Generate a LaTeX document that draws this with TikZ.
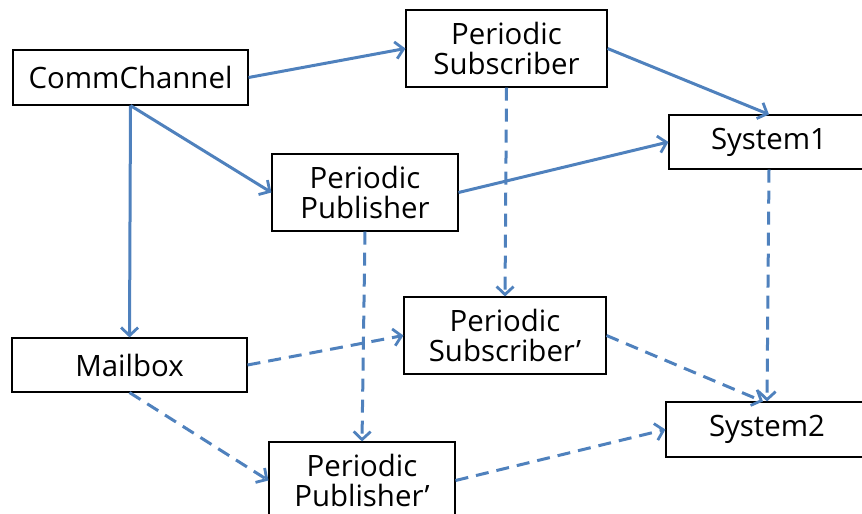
\documentclass[tikz,border=0pt]{standalone}
\usepackage{fontspec}
\setmainfont{Open Sans}
\usetikzlibrary{arrows.meta}
\definecolor{lineblue}{RGB}{79,129,189}
\tikzset{
  box/.style={draw=black, line width=1.1bp, fill=white, inner sep=0pt, align=center,
    font=\fontsize{29.5}{31}\selectfont},
  conn/.style={draw=lineblue, line width=3bp,
    -{Straight Barb[length=8bp,width=17bp,line width=2.8bp]}},
  dconn/.style={conn, dash pattern=on 13bp off 8bp},
}
\begin{document}
\begin{tikzpicture}[x=1bp,y=-1bp]
\useasboundingbox (0,0) rectangle (862,514);
\clip (0,0) rectangle (862,514);
\node[box, minimum width=235bp, minimum height=55bp] (cc) at (130.5,77.5) {CommChannel};
\node[box, minimum width=201bp, minimum height=77bp] (ps) at (506.5,48.5) {Periodic\\Subscriber};
\node[box, minimum width=186bp, minimum height=77bp] (pp) at (365,192.5) {Periodic\\Publisher};
\node[box, minimum width=200bp, minimum height=54bp] (s1) at (769,142) {System1};
\node[box, minimum width=235bp, minimum height=54bp] (mb) at (129.5,365) {Mailbox};
\node[box, minimum width=202bp, minimum height=77bp] (psp) at (505,335.5) {Periodic\\Subscriber’};
\node[box, minimum width=186bp, minimum height=77bp] (ppp) at (362,480.5) {Periodic\\Publisher’};
\node[box, minimum width=202bp, minimum height=55bp] (s2) at (767,429.5) {System2};

\draw[conn] (cc.east) -- (ps.west);
\draw[conn] (cc.south) -- (pp.west);
\draw[conn] (cc.south) -- (mb.north);
\draw[conn] (ps.east) -- (s1.north);
\draw[conn] (pp.east) -- (s1.west);
\draw[dconn] (ps.south) -- (psp.north);
\draw[dconn] (pp.south) -- (ppp.north);
\draw[dconn] (s1.south) -- (s2.north);
\draw[dconn] (mb.east) -- (psp.west);
\draw[dconn] (mb.south) -- (ppp.west);
\draw[dconn] (psp.east) -- ([xshift=-4bp]s2.north);
\draw[dconn] (ppp.east) -- (s2.west);
\end{tikzpicture}
\end{document}
